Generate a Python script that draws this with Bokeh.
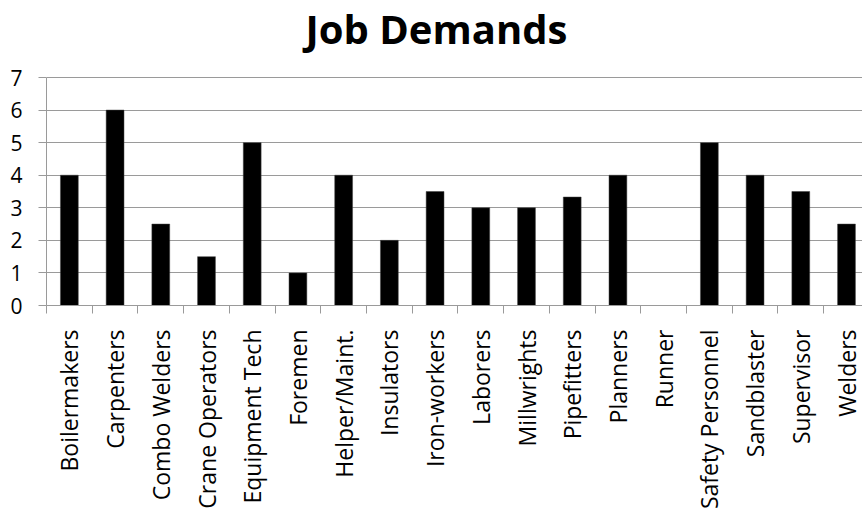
import math
from bokeh.plotting import figure
from bokeh.models import Range1d, FixedTicker, ColumnDataSource, Label
from bokeh.embed import file_html
from bokeh.resources import INLINE

title_text = "Job Demands"
categories = ["Boilermakers", "Carpenters", "Combo Welders", "Crane Operators",
              "Equipment Tech", "Foremen", "Helper/Maint.", "Insulators",
              "Iron-workers", "Laborers", "Millwrights", "Pipefitters",
              "Planners", "Runner", "Safety Personnel", "Sandblaster",
              "Supervisor", "Welders"]
values = [4, 6, 2.5, 1.5, 5, 1, 4, 2, 3.5, 3, 3, 3.33, 4, 0, 5, 4, 3.5, 2.5]
y_ticks = [0, 1, 2, 3, 4, 5, 6, 7]

n = len(categories)
xs = [i + 0.5 for i in range(n)]
src = ColumnDataSource(dict(x=xs, top=values, cat=categories))

FONT = "Open Sans"
GRID = "#9a9a9a"

# layout: value axis 0..7 spans 228 px, frame runs up to the canvas top (305 px)
y_max = y_ticks[-1]
y_view_top = y_max * 305 / 228

p = figure(width=862, height=516, output_backend="svg", toolbar_location=None,
           x_range=Range1d(0, n - 0.15), y_range=Range1d(0, y_view_top),
           min_border_left=46, min_border_right=0, min_border_top=0,
           min_border_bottom=211)
p.outline_line_color = None
p.background_fill_color = "white"
p.border_fill_color = "white"

title = Label(x=259, y=277, x_units="screen", y_units="screen",
              text=title_text, text_font=FONT, text_font_size="40px",
              text_font_style="bold", text_color="black",
              text_baseline="alphabetic", text_align="left")
p.add_layout(title)

p.vbar(x="x", top="top", bottom=0, width=0.39, source=src,
       fill_color="black", line_color="#404040", line_width=0.5)

p.xgrid.grid_line_color = None
p.ygrid.ticker = FixedTicker(ticks=y_ticks)
p.ygrid.grid_line_color = GRID
p.ygrid.grid_line_width = 1

xa = p.xaxis[0]
xa.ticker = FixedTicker(ticks=xs, minor_ticks=list(range(n + 1)))
xa.major_label_overrides = {x: c for x, c in zip(xs, categories)}
xa.major_label_orientation = math.pi / 2
xa.major_label_text_font = FONT
xa.major_label_text_font_size = "23px"
xa.major_label_text_color = "black"
xa.major_tick_line_color = None
xa.major_tick_out = 8
xa.major_tick_in = 0
xa.major_label_standoff = 16
xa.minor_tick_line_color = GRID
xa.minor_tick_out = 8
xa.minor_tick_in = 0
xa.axis_line_color = GRID

ya = p.yaxis[0]
ya.ticker = FixedTicker(ticks=y_ticks)
ya.bounds = (0, y_max)
ya.major_label_text_font = FONT
ya.major_label_text_font_size = "21px"
ya.major_label_text_color = "black"
ya.major_tick_line_color = GRID
ya.major_tick_out = 8
ya.major_tick_in = 0
ya.minor_tick_line_color = None
ya.major_label_standoff = 16
ya.axis_line_color = GRID

open("out.html", "w").write(file_html(p, INLINE))
